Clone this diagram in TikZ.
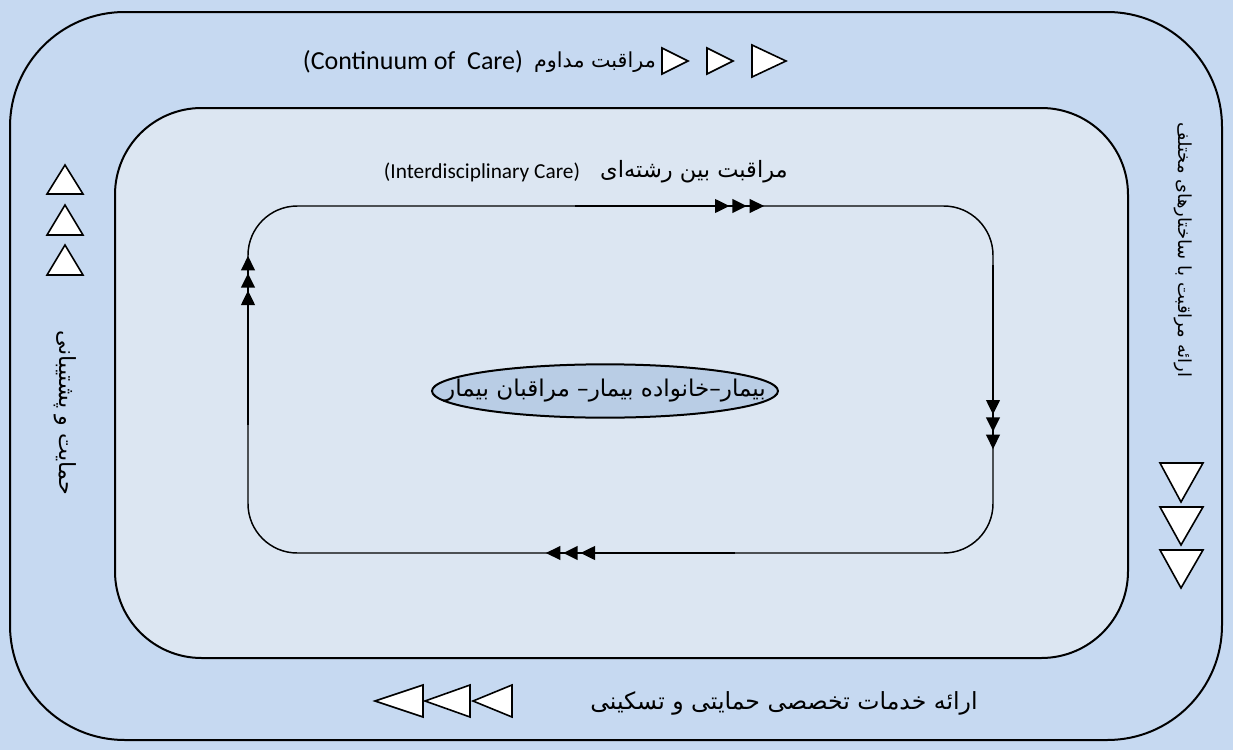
\documentclass[tikz,border=0pt]{standalone}
\usepackage{fontspec}
\setmainfont{Carlito}
\newfontfamily\fa[Script=Arabic]{DejaVu Sans}
\TeXXeTstate=1
\usetikzlibrary{arrows.meta,shapes.geometric}
\definecolor{bgblue}{HTML}{C6D9F1}
\definecolor{innerblue}{HTML}{DCE6F2}
\definecolor{ellblue}{HTML}{B9CDE5}
\begin{document}
\begin{tikzpicture}[x=0.75pt,y=-0.75pt,
  frame/.style={draw=black,line width=1.5pt},
  loopline/.style={draw=black,line width=1.1pt},
  flow/.style={line width=2.2pt,-{Triangle[length=11pt,width=10pt,sep=2pt]Triangle[length=11pt,width=10pt,sep=2pt]Triangle[length=11pt,width=10pt,sep=2pt]}},
  tri/.style={draw=black,fill=white,line width=1.2pt,line join=miter},
  enlbl/.style={inner sep=0pt,font=\fontsize{#1}{22}\selectfont},
  enlbl/.default=19.5,
  falbl/.style={inner sep=0pt,font=\fa\fontsize{#1}{20}\selectfont},
  falbl/.default=16
]
\useasboundingbox (0,0) rectangle (1233,750);
\fill[bgblue] (0,0) rectangle (1233,750);
% frames
\draw[frame,rounded corners=86pt] (10,12) rectangle (1222,740);
\draw[frame,fill=innerblue,rounded corners=65pt] (115,108) rectangle (1128,658);
\draw[loopline,rounded corners=37pt] (248,206) rectangle (993,553);
% flow arrows on the loop
\coordinate (ta) at (575,206); \coordinate (tb) at (767,206);
\coordinate (ra) at (993,265); \coordinate (rb) at (993,452);
\coordinate (ba) at (735,553); \coordinate (bb) at (543,553);
\coordinate (la) at (248,425); \coordinate (lb) at (248,253);
\draw[flow] (ta) -- (tb);
\draw[flow] (ra) -- (rb);
\draw[flow] (ba) -- (bb);
\draw[flow] (la) -- (lb);
% centre
\node[ellipse,draw=black,line width=1.5pt,fill=ellblue,minimum width=259.5pt,minimum height=40pt,inner xsep=-45pt,inner ysep=0pt,font=\fa\fontsize{17.3}{20}\selectfont] (core) at (605,391) {\beginR بیمار–خانواده بیمار– مراقبان بیمار\endR};
% top label
\node[enlbl] (contEn) at (413,62) {(Continuum of\ \ Care)};
\node[falbl=15.5] (contFa) at (595,62) {\beginR مراقبت مداوم\endR};
\draw[tri] (662,48) -- (688,61) -- (662,74) -- cycle;
\draw[tri] (707,48) -- (733,61) -- (707,74) -- cycle;
\draw[tri] (752,45) -- (786,61) -- (752,77) -- cycle;
% middle label
\node[enlbl=16] (interEn) at (482,172) {(Interdisciplinary Care)};
\node[falbl=16.9] (interFa) at (694,172) {\beginR مراقبت بین رشته‌ای\endR};
% left
\draw[tri] (47,194) -- (65,165) -- (83,194) -- cycle;
\draw[tri] (47,235) -- (65,205) -- (83,235) -- cycle;
\draw[tri] (47,275) -- (65,245) -- (83,275) -- cycle;
\node[falbl=16.7,rotate=-90] (support) at (65,413) {\beginR حمایت و پشتیبانی\endR};
% right
\node[falbl=13.5,rotate=-90] (struct) at (1183,250) {\beginR ارائه مراقبت با ساختارهای مختلف\endR};
\draw[tri] (1160,463) -- (1203,463) -- (1181,502) -- cycle;
\draw[tri] (1160,507) -- (1203,507) -- (1181,545) -- cycle;
\draw[tri] (1160,550) -- (1203,550) -- (1181,588) -- cycle;
% bottom
\node[falbl=17.7] (pall) at (784,703) {\beginR ارائه خدمات تخصصی حمایتی و تسکینی\endR};
\draw[tri] (375,701) -- (423,685) -- (423,717) -- cycle;
\draw[tri] (425,701) -- (470,685) -- (470,717) -- cycle;
\draw[tri] (473,701) -- (512,685) -- (512,717) -- cycle;
\end{tikzpicture}
\end{document}
